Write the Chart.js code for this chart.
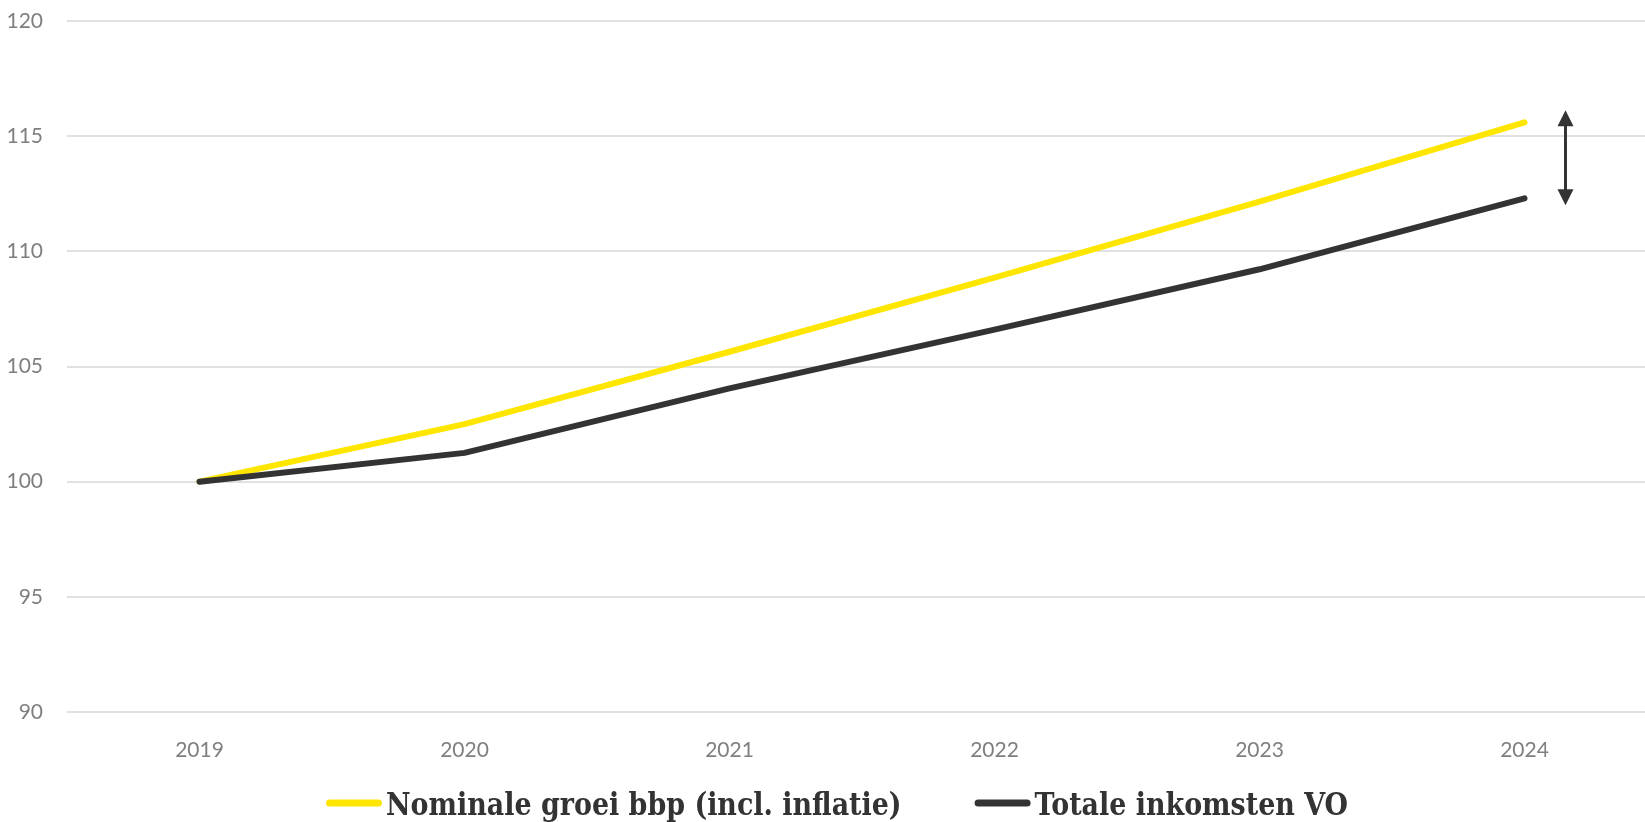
<!DOCTYPE html>
<html>
<head>
<meta charset="utf-8">
<script src="https://cdn.jsdelivr.net/npm/chart.js@4"></script>
<style>
  html, body { margin: 0; padding: 0; background: #ffffff; overflow: hidden; }
  #wrap { width: 1645px; height: 822px; overflow: hidden; }
  canvas { display: block; }
</style>
</head>
<body>
<div id="wrap"><canvas id="c" width="1657" height="822"></canvas></div>
<script>
// ---- data ----
const years = ['2019', '2020', '2021', '2022', '2023', '2024'];
const nominaleGroeiBbp = [100, 102.5, 105.64, 108.86, 112.16, 115.6];
const totaleInkomstenVO = [100, 101.25, 104.05, 106.6, 109.22, 112.3];
const seriesLabels = ['Nominale groei bbp (incl. inflatie)', 'Totale inkomsten VO'];
const yTicks = [90, 95, 100, 105, 110, 115, 120];

const YELLOW = '#FFE600';
const DARK = '#333333';

// arrow between the two series end values
const arrowPlugin = {
  id: 'gapArrow',
  afterDatasetsDraw(chart) {
    const xs = chart.scales.x, ys = chart.scales.y;
    const last = years.length - 1;
    const x = xs.getPixelForValue(last) + 41;
    const yTop = ys.getPixelForValue(nominaleGroeiBbp[last] + 0.52);
    const yBot = ys.getPixelForValue(totaleInkomstenVO[last] - 0.3);
    const ctx = chart.ctx;
    const hw = 8, hh = 16;
    ctx.save();
    ctx.strokeStyle = DARK;
    ctx.fillStyle = DARK;
    ctx.lineWidth = 3;
    ctx.beginPath();
    ctx.moveTo(x, yTop + hh - 1);
    ctx.lineTo(x, yBot - hh + 1);
    ctx.stroke();
    ctx.beginPath();
    ctx.moveTo(x, yTop);
    ctx.lineTo(x - hw, yTop + hh);
    ctx.lineTo(x + hw, yTop + hh);
    ctx.closePath();
    ctx.fill();
    ctx.beginPath();
    ctx.moveTo(x, yBot);
    ctx.lineTo(x - hw, yBot - hh);
    ctx.lineTo(x + hw, yBot - hh);
    ctx.closePath();
    ctx.fill();
    ctx.restore();
  }
};

// custom legend: line swatch directly followed by slab-serif text
const legendPlugin = {
  id: 'slabLegend',
  afterDraw(chart) {
    const ctx = chart.ctx;
    const font = 'bold 31px "DejaVu Serif Condensed", "DejaVu Serif", serif';
    const sx = 0.965; // horizontal compression of the legend text
    const sw = 56, gapText = 4, gapItem = 73, yMid = 803, yBase = 815, shift = -25;
    ctx.save();
    ctx.font = font;
    const items = chart.data.datasets.map(ds => ({ ds, w: ctx.measureText(ds.label).width * sx }));
    let total = 0;
    items.forEach((it, i) => { total += sw + gapText + it.w + (i ? gapItem : 0); });
    const ca = chart.chartArea;
    let x = (ca.left + ca.right) / 2 - total / 2 + shift;
    items.forEach((it, i) => {
      if (i) x += gapItem;
      ctx.strokeStyle = it.ds.borderColor;
      ctx.lineWidth = 7;
      ctx.lineCap = 'round';
      ctx.beginPath();
      ctx.moveTo(x + 3.5, yMid);
      ctx.lineTo(x + sw - 3.5, yMid);
      ctx.stroke();
      x += sw + gapText;
      ctx.save();
      ctx.translate(x, yBase);
      ctx.scale(sx, 1);
      ctx.fillStyle = DARK;
      ctx.textBaseline = 'alphabetic';
      ctx.textAlign = 'left';
      ctx.fillText(it.ds.label, 0, 0);
      ctx.restore();
      x += it.w;
    });
    ctx.restore();
  }
};

new Chart(document.getElementById('c'), {
  type: 'line',
  data: {
    labels: years,
    datasets: [
      {
        label: seriesLabels[0],
        data: nominaleGroeiBbp,
        borderColor: YELLOW,
        backgroundColor: YELLOW,
        borderWidth: 6,
        borderCapStyle: 'round',
        borderJoinStyle: 'round',
        pointRadius: 0,
        tension: 0,
        order: 1
      },
      {
        label: seriesLabels[1],
        data: totaleInkomstenVO,
        borderColor: DARK,
        backgroundColor: DARK,
        borderWidth: 6,
        borderCapStyle: 'round',
        borderJoinStyle: 'round',
        pointRadius: 0,
        tension: 0,
        order: 0
      }
    ]
  },
  options: {
    responsive: false,
    animation: false,
    devicePixelRatio: 1,
    layout: { padding: { top: 21, left: 0, right: 0, bottom: 0 } },
    plugins: {
      legend: { display: false },
      tooltip: { enabled: false }
    },
    scales: {
      x: {
        offset: true,
        grid: { display: false },
        border: { display: false },
        ticks: {
          color: '#7f7f7f',
          font: { family: 'Lato', size: 21 },
          padding: 18,
          maxRotation: 0
        },
        afterFit(scale) { scale.height = 110; }
      },
      y: {
        min: 90,
        max: 120,
        afterBuildTicks(scale) { scale.ticks = yTicks.map(v => ({ value: v })); },
        grid: { color: '#e1e1e1', lineWidth: 2, drawTicks: false },
        border: { display: false },
        ticks: {
          color: '#7f7f7f',
          font: { family: 'Lato', size: 21 },
          padding: 24
        },
        afterFit(scale) {
          scale.width = 67;
          scale.paddingTop = 0;
          scale.paddingBottom = 0;
        }
      }
    }
  },
  plugins: [arrowPlugin, legendPlugin]
});
</script>
</body>
</html>
